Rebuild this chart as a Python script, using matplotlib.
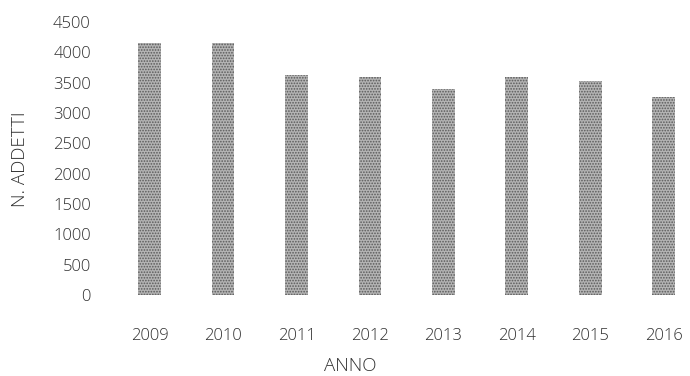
import matplotlib.pyplot as plt

# Dati: addetti per anno
anni = ['2009', '2010', '2011', '2012', '2013', '2014', '2015', '2016']
addetti = [4150, 4150, 3620, 3600, 3400, 3590, 3520, 3260]

W, H = 690, 376
fig = plt.figure(figsize=(W / 100, H / 100), dpi=100)
ax = fig.add_axes([113 / W, (H - 295) / H, (690 - 113) / W, (295 - 22) / H])

plt.rcParams['hatch.linewidth'] = 0.8
x = range(len(anni))
ax.bar(x, addetti, width=0.31, color='#b4b4b4', edgecolor='#5a5a5a',
       hatch='......', linewidth=0)

ax.set_xlim(-0.5, 7.36)
ax.set_ylim(0, 4500)
ax.set_yticks(range(0, 4501, 500))
ax.set_xticks(list(x))
ax.set_xticklabels(anni)

for s in ax.spines.values():
    s.set_visible(False)
ax.tick_params(length=0, colors='#303030', labelsize=12)
ax.tick_params(axis='y', pad=16)
ax.tick_params(axis='x', pad=24)
for t in ax.get_xticklabels() + ax.get_yticklabels():
    t.set_family('Open Sans')
    t.set_fontweight('light')

fig.text(20 / W, 1 - 159 / H, 'N. ADDETTI', rotation=90, ha='center', va='center',
         fontsize=13.5, color='#303030', family='Open Sans', fontweight='light')
fig.text(350 / W, 1 - 366 / H, 'ANNO', ha='center', va='center',
         fontsize=13.5, color='#303030', family='Open Sans', fontweight='light')

fig.savefig('out.png', dpi=100, facecolor='white')
